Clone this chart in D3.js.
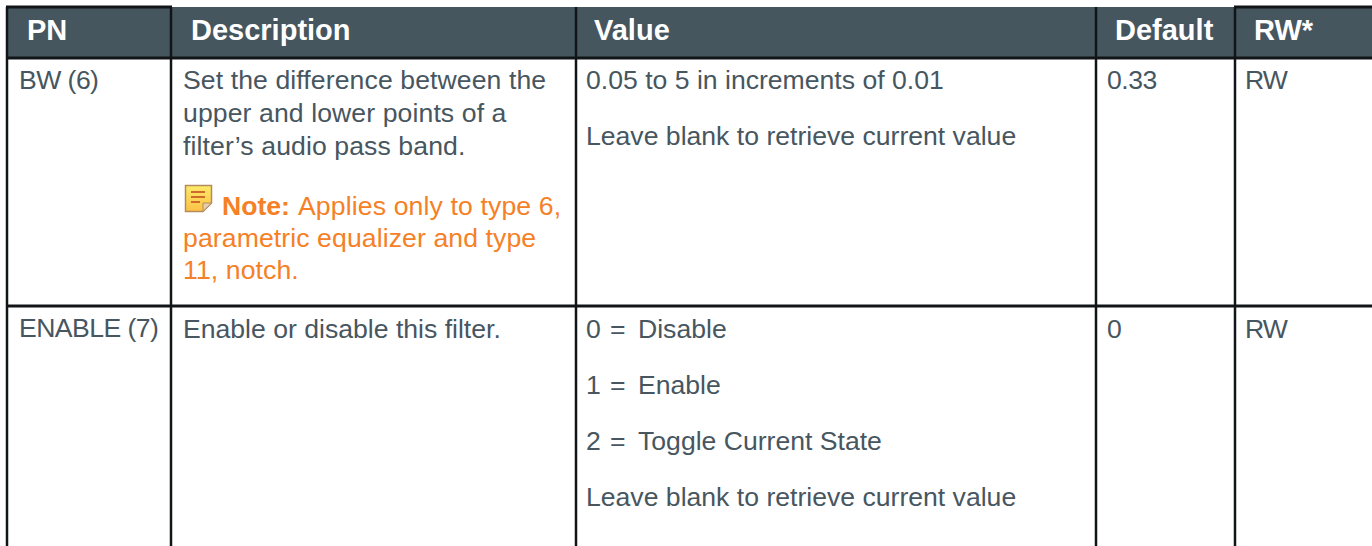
<!DOCTYPE html>
<html>
<head>
<meta charset="utf-8">
<script src="https://cdn.jsdelivr.net/npm/d3@7"></script>
<style>
  html, body { margin: 0; padding: 0; background: #fff; overflow: hidden; }
  text { font-family: "Liberation Sans", Arial, sans-serif; }
</style>
</head>
<body>
<div id="table"></div>
<script>
// Table content
const headers = ["PN", "Description", "Value", "Default", "RW*"];
const rowNames = ["BW (6)", "ENABLE (7)"];
const descriptions = [
  ["Set the difference between the", "upper and lower points of a", "filter\u2019s audio pass band."],
  ["Enable or disable this filter."]
];
const noteLines = ["Applies only to type 6,", "parametric equalizer and type", "11, notch."];
const values = ["0.05 to 5 in increments of 0.01", "Leave blank to retrieve current value"];
const stateCodes = ["0", "1", "2"];
const stateNames = ["Disable", "Enable", "Toggle Current State"];
const defaults = ["0.33", "0"];
const access = ["RW", "RW"];

const width = 1372, height = 546;
const bodySize = 26.6;
const bodyColor = "#47565f", noteColor = "#f58025", headColor = "#46565f", lineColor = "#121517";

const svg = d3.select("#table")
  .append("svg")
    .attr("width", width)
    .attr("height", height)
    .style("display", "block");

// Column edges and row edges, as the table lays them out
const colEdges = [7, 171, 576, 1096, 1235];
const x = d3.scaleOrdinal().domain(headers).range(colEdges);
const rowTop = d3.scaleOrdinal().domain(rowNames).range([58, 306]);

// Header band
svg.append("rect")
  .attr("x", 6).attr("y", 7)
  .attr("width", width - 6).attr("height", 51)
  .attr("fill", headColor);

svg.selectAll(".head")
  .data(headers)
  .join("text")
    .attr("class", "head")
    .attr("x", (d, i) => x(d) + [20, 20, 18, 19, 19][i])
    .attr("y", 40)
    .attr("fill", "#fff")
    .attr("font-size", 29)
    .attr("font-weight", "bold")
    .text(d => d);

// Writes one cell's lines at the given baselines
function cellLines(left, baselines, lines, color, spacing = 0) {
  svg.append("g")
    .selectAll("text")
    .data(lines)
    .join("text")
      .attr("x", left)
      .attr("y", (d, i) => baselines[i])
      .attr("fill", color)
      .attr("font-size", bodySize)
      .attr("letter-spacing", spacing)
      .text(d => d);
}

// First column
rowNames.forEach(d => cellLines(19, [rowTop(d) + 31], [d], bodyColor, -0.55));

// Description column
cellLines(183, [89, 122, 155], descriptions[0], bodyColor, 0.1);
cellLines(183, [338], descriptions[1], bodyColor);

// Note, with its small sticky note icon
const grad = svg.append("defs").append("linearGradient")
  .attr("id", "noteFill")
  .attr("x1", 0).attr("x2", 0).attr("y1", 0).attr("y2", 1);
grad.append("stop").attr("offset", 0).attr("stop-color", "#fdea6a");
grad.append("stop").attr("offset", 1).attr("stop-color", "#fcc145");

const icon = svg.append("g").attr("transform", "translate(185,185)");
icon.append("path")
  .attr("d", "M0.5,0.5H26.5V18L18,26.5H0.5Z")
  .attr("fill", "url(#noteFill)")
  .attr("stroke", "#b58a5c")
  .attr("stroke-width", 1.5);
icon.append("path")
  .attr("d", "M18,26.5V18H26.5Z")
  .attr("fill", "#e6cfae")
  .attr("stroke", "#b58a5c");
icon.selectAll("rect")
  .data([6, 11, 16])
  .join("rect")
    .attr("x", 6).attr("y", d => d)
    .attr("width", (d, i) => i == 2 ? 9 : 14).attr("height", 2)
    .attr("fill", "#cf6a2c");

svg.append("text")
  .attr("x", 222).attr("y", 215)
  .attr("fill", noteColor)
  .attr("font-size", bodySize)
  .attr("font-weight", "bold")
  .text("Note:");
cellLines(298, [215], [noteLines[0]], noteColor, 0.13);
cellLines(183, [247, 279], noteLines.slice(1), noteColor, 0.1);

// Value column
cellLines(586, [89, 145], values, bodyColor);
const stateY = [338, 394, 450];
cellLines(586, stateY, stateCodes, bodyColor);
cellLines(610, stateY, stateCodes.map(() => "="), bodyColor);
cellLines(638, stateY, stateNames, bodyColor);
cellLines(586, [506], [values[1]], bodyColor);

// Default and RW columns
cellLines(1107, [89], [defaults[0]], bodyColor, -0.5);
cellLines(1107, [338], [defaults[1]], bodyColor);
cellLines(1245, [89], [access[0]], bodyColor, -1);
cellLines(1245, [338], [access[1]], bodyColor, -1);

// Rules
svg.selectAll(".v")
  .data(colEdges)
  .join("line")
    .attr("class", "v")
    .attr("x1", d => d).attr("x2", d => d)
    .attr("y1", 7).attr("y2", height)
    .attr("stroke", lineColor)
    .attr("stroke-width", 2.5);

svg.selectAll(".h")
  .data([58, 306])
  .join("line")
    .attr("class", "h")
    .attr("x1", 6).attr("x2", width)
    .attr("y1", d => d).attr("y2", d => d)
    .attr("stroke", lineColor)
    .attr("stroke-width", 3);

// Darker top edge over the first and last header cells
svg.append("path")
  .attr("d", `M6,7H172M1234,7H${width}`)
  .attr("fill", "none")
  .attr("stroke", lineColor)
  .attr("stroke-width", 3);
</script>
</body>
</html>
